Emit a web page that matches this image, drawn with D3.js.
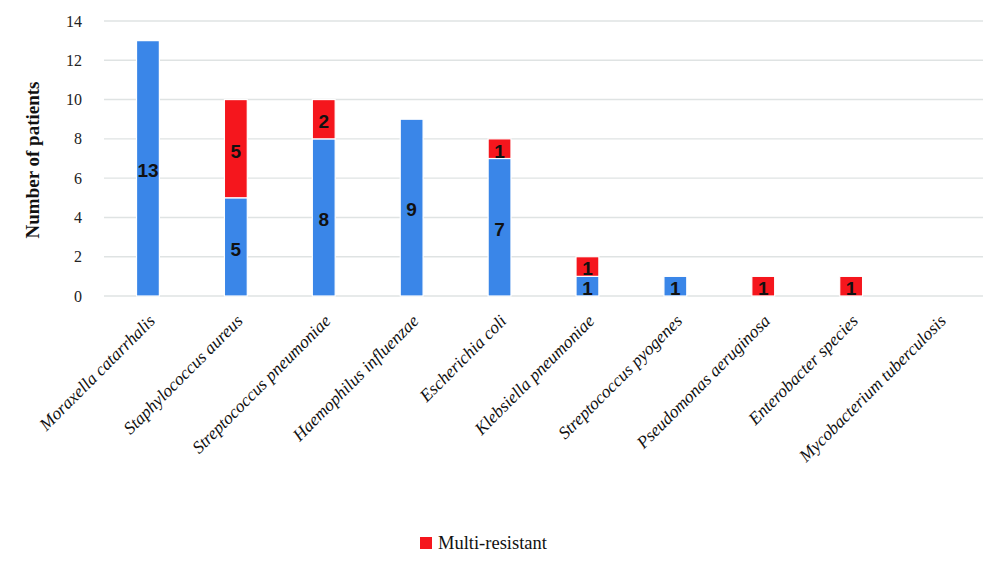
<!DOCTYPE html>
<html>
<head>
<meta charset="utf-8">
<script src="https://cdn.jsdelivr.net/npm/d3@7"></script>
<style>
  body { margin: 0; background: #fff; }
  svg { display: block; }
</style>
</head>
<body>
<div id="chart"></div>
<script>
var categories = ["Moraxella catarrhalis", "Staphylococcus aureus", "Streptococcus pneumoniae",
  "Haemophilus influenzae", "Escherichia coli", "Klebsiella pneumoniae", "Streptococcus pyogenes",
  "Pseudomonas aeruginosa", "Enterobacter species", "Mycobacterium tuberculosis"];
var susceptible = [13, 5, 8, 9, 7, 1, 1, 0, 0, 0];
var multiResistant = [0, 5, 2, 0, 1, 1, 0, 1, 1, 0];
var yTicks = [0, 2, 4, 6, 8, 10, 12, 14];

var width = 1000, height = 568;
var margin = {top: 21, right: 17, bottom: 272, left: 104};

var rows = categories.map(function(c, i) {
  return {name: c, susceptible: susceptible[i], multi: multiResistant[i]};
});

var series = d3.stack().keys(["susceptible", "multi"])(rows);
var color = {susceptible: "#3a86e8", multi: "#f5161d"};

var x = d3.scaleBand()
  .domain(categories)
  .range([margin.left, width - margin.right])
  .paddingInner(0.74)
  .paddingOuter(0.37);

var y = d3.scaleLinear()
  .domain([0, 14])
  .range([height - margin.bottom, margin.top]);

var svg = d3.select("#chart").append("svg")
  .attr("width", width)
  .attr("height", height);

// gridlines
svg.append("g")
  .selectAll("line")
  .data(yTicks)
  .enter()
  .append("line")
  .attr("x1", margin.left)
  .attr("x2", width - margin.right)
  .attr("y1", d => y(d))
  .attr("y2", d => y(d))
  .attr("stroke", "#dfe3e3")
  .attr("stroke-width", 1.4);

// y axis labels
var yAxis = svg.append("g")
  .attr("transform", "translate(" + (margin.left - 22) + ",0)")
  .call(d3.axisLeft(y).tickValues(yTicks).tickSize(0).tickPadding(0));
yAxis.select(".domain").remove();
yAxis.selectAll("text")
  .attr("font-family", "Liberation Serif, serif")
  .attr("font-size", 16)
  .attr("fill", "#222");

// y axis title
svg.append("text")
  .attr("transform", "translate(39," + 160 + ") rotate(-90)")
  .attr("text-anchor", "middle")
  .attr("font-family", "Liberation Serif, serif")
  .attr("font-weight", "bold")
  .attr("font-size", 19)
  .attr("fill", "#111")
  .text("Number of patients");

// bars
var layers = svg.selectAll("g.layer")
  .data(series)
  .enter()
  .append("g")
  .attr("class", "layer")
  .attr("fill", d => color[d.key]);

layers.selectAll("rect")
  .data(d => d.filter(s => s[1] - s[0] > 0))
  .enter()
  .append("rect")
  .attr("x", d => x(d.data.name))
  .attr("width", x.bandwidth())
  .attr("y", d => y(d[1]))
  .attr("height", d => y(d[0]) - y(d[1]))
  .attr("stroke", "#fff")
  .attr("stroke-width", 1.2);

// value labels, centred in each segment (a touch low, as in the original)
layers.selectAll("text")
  .data(d => d.filter(s => s[1] - s[0] > 0))
  .enter()
  .append("text")
  .attr("x", d => x(d.data.name) + x.bandwidth() / 2)
  .attr("y", d => (y(d[0]) + y(d[1])) / 2 + 2)
  .attr("dy", "0.36em")
  .attr("text-anchor", "middle")
  .attr("font-family", "Liberation Sans, Arial, sans-serif")
  .attr("font-weight", "bold")
  .attr("font-size", 19)
  .attr("fill", "#111")
  .text(d => d[1] - d[0]);

// category labels
svg.append("g")
  .selectAll("text")
  .data(categories)
  .enter()
  .append("text")
  .attr("transform", d => "translate(" + (x(d) + x.bandwidth() / 2 + 8) + "," + (y(0) + 26) + ") rotate(-45)")
  .attr("text-anchor", "end")
  .attr("font-family", "Liberation Serif, serif")
  .attr("font-style", "italic")
  .attr("font-size", 17.5)
  .attr("fill", "#111")
  .text(d => d);

// legend
var legend = svg.append("g").attr("transform", "translate(420,537)");
legend.append("rect")
  .attr("width", 12)
  .attr("height", 12)
  .attr("fill", color.multi);
legend.append("text")
  .attr("x", 18)
  .attr("y", 12)
  .attr("font-family", "Liberation Serif, serif")
  .attr("font-size", 18.5)
  .attr("fill", "#111")
  .text("Multi-resistant");
</script>
</body>
</html>
